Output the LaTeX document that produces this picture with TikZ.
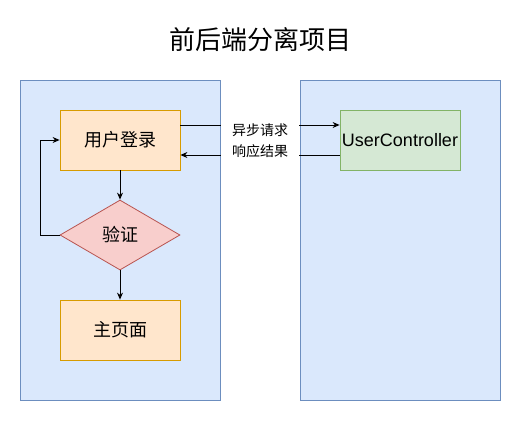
\documentclass[tikz,border=0pt]{standalone}
\usepackage{fontspec}
\setmainfont{Noto Sans CJK SC}
\newfontfamily\latinsans{Liberation Sans}
\usetikzlibrary{arrows.meta,shapes.geometric}
\definecolor{panelfill}{HTML}{DAE8FC}
\definecolor{panelline}{HTML}{6C8EBF}
\definecolor{orfill}{HTML}{FFE6CC}
\definecolor{orline}{HTML}{D79B00}
\definecolor{rdfill}{HTML}{F8CECC}
\definecolor{rdline}{HTML}{B85450}
\definecolor{grfill}{HTML}{D5E8D4}
\definecolor{grline}{HTML}{82B366}
\begin{document}
\begin{tikzpicture}[x=1pt,y=-1pt,
  panel/.style={draw=panelline,fill=panelfill,line width=0.8pt},
  obox/.style={draw=orline,fill=orfill,line width=0.8pt,minimum width=120pt,minimum height=60pt,inner sep=0pt,font=\fontsize{18}{21}\selectfont},
  gbox/.style={draw=grline,fill=grfill,line width=0.8pt,minimum width=120pt,minimum height=60pt,inner sep=0pt,font=\latinsans\fontsize{18}{21}\selectfont},
  dia/.style={diamond,draw=rdline,fill=rdfill,line width=0.8pt,minimum width=120pt,minimum height=70pt,inner sep=0pt,aspect=1.714,font=\fontsize{18}{21}\selectfont},
  conn/.style={line width=0.9pt,-{Stealth[length=7pt,width=6pt]}},
  lbl/.style={font=\fontsize{14}{21}\selectfont,align=center,fill=white,minimum width=78pt,minimum height=44pt,inner sep=0pt}]
\useasboundingbox (0,0) rectangle (521,421);
\fill[white] (0,0) rectangle (521,421);
\node[font=\fontsize{26}{30}\selectfont] (title) at (260,40) {前后端分离项目};
\draw[panel] (20,80) rectangle (220,400);
\draw[panel] (300,80) rectangle (500,400);
\node[obox] (login) at (120,140) {用户登录};
\node[dia] (verify) at (120,235) {验证};
\node[obox] (home) at (120,330) {主页面};
\node[gbox] (uc) at (400,140) {UserController};
\coordinate (c1) at (40,235);
\coordinate (c2) at (40,140);
\draw[conn] (login.south) -- (verify.north);
\draw[conn] (verify.south) -- (home.north);
\draw[conn] (verify.west) -- (c1) -- (c2) -- (login.west);
\draw[conn] ([yshift=15pt]login.east) -- ([yshift=15pt]uc.west);
\draw[conn] ([yshift=-15pt]uc.west) -- ([yshift=-15pt]login.east);
\node[lbl] (lab) at (260,141) {异步请求\\响应结果};
\end{tikzpicture}
\end{document}
